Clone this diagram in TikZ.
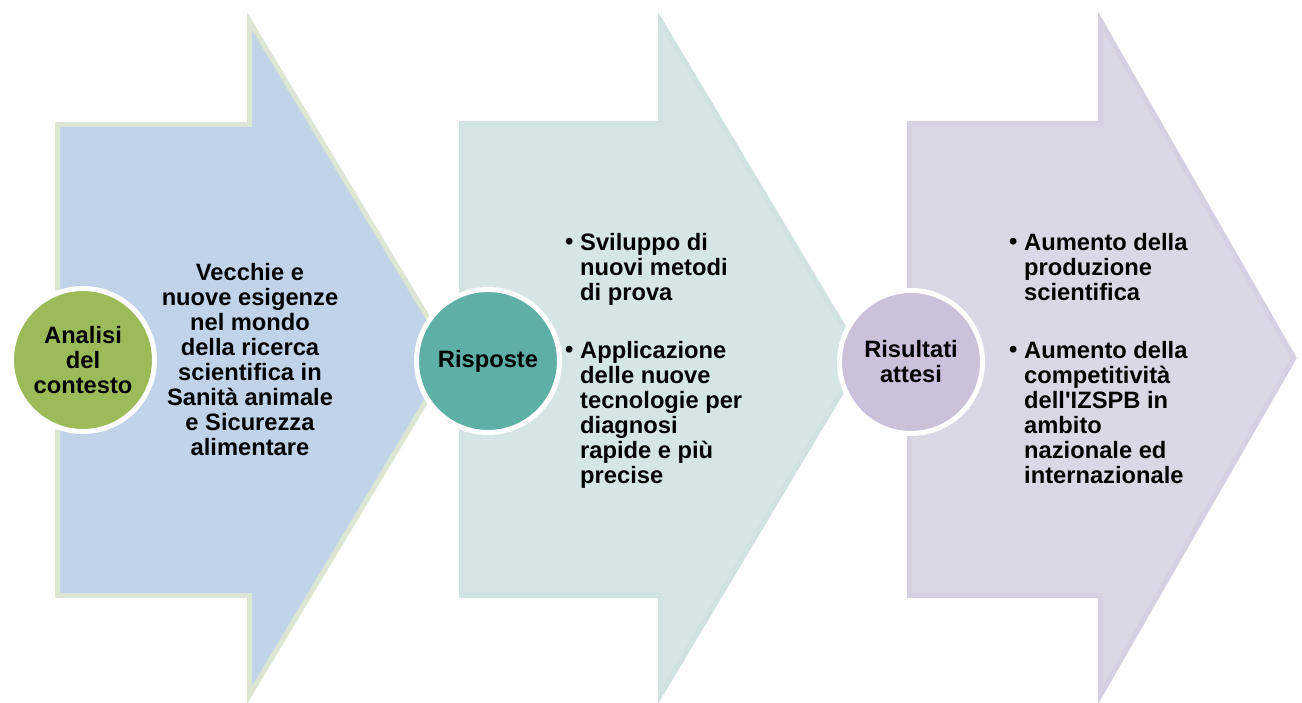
\documentclass[tikz,border=0pt]{standalone}
\usepackage{fontspec}
\setmainfont{Liberation Sans}
\definecolor{aOneFill}{HTML}{C1D3E8}
\definecolor{aOneLine}{HTML}{DCE6D3}
\definecolor{aTwoFill}{HTML}{D5E6E4}
\definecolor{aTwoLine}{HTML}{D0E3E1}
\definecolor{aThreeFill}{HTML}{DBD8E5}
\definecolor{aThreeLine}{HTML}{D5D1E2}
\definecolor{cOne}{HTML}{9BBB59}
\definecolor{cTwo}{HTML}{5EAFA6}
\definecolor{cThree}{HTML}{CBC1DB}
\tikzset{
  arrowshape/.style={line width=5pt, line join=miter},
  disc/.style={circle, draw=white, line width=5pt, minimum size=143pt, inner sep=0pt,
    align=center, font=\bfseries\fontsize{23.7}{25}\selectfont},
  bodytext/.style={inner sep=0pt, align=center, font=\bfseries\fontsize{23.7}{25}\selectfont},
  itemtext/.style={inner sep=0pt, align=left, anchor=north west, font=\bfseries\fontsize{23.7}{25}\selectfont},
  bulletmark/.style={inner sep=0pt, anchor=base west, font=\bfseries\fontsize{23.7}{25}\selectfont},
}
\begin{document}
\begin{tikzpicture}[x=1pt,y=-1pt]
\useasboundingbox (0,0) rectangle (1302,703);
% arrows
\path[arrowshape, fill=aOneFill, draw=aOneLine]
  (57.5,124.5) -- (249.5,124.5) -- (249.5,21) -- (452,358) -- (249.5,695) -- (249.5,595.5) -- (57.5,595.5) -- cycle;
\path[arrowshape, fill=aTwoFill, draw=aTwoLine]
  (461.5,123.5) -- (660.5,123.5) -- (660.5,21) -- (862,358) -- (660.5,695) -- (660.5,595.5) -- (461.5,595.5) -- cycle;
\path[arrowshape, fill=aThreeFill, draw=aThreeLine]
  (909.5,123.5) -- (1100.5,123.5) -- (1100.5,21) -- (1294,358) -- (1100.5,695) -- (1100.5,595.5) -- (909.5,595.5) -- cycle;
% arrow texts
\node[bodytext] (t1) at (250,359.5) {Vecchie e\\nuove esigenze\\nel mondo\\della ricerca\\scientifica in\\Sanità animale\\e Sicurezza\\alimentare};
\node[itemtext] (b1) at (580,232.7) {Sviluppo di\\nuovi metodi\\di prova};
\node[bulletmark] (m1) at (565,250) {•};
\node[itemtext] (b2) at (580,340.7) {Applicazione\\delle nuove\\tecnologie per\\diagnosi\\rapide e più\\precise};
\node[bulletmark] (m2) at (565,358) {•};
\node[itemtext] (b3) at (1024,232.7) {Aumento della\\produzione\\scientifica};
\node[bulletmark] (m3) at (1009,250) {•};
\node[itemtext] (b4) at (1024,340.7) {Aumento della\\competitività\\dell\textquotesingle IZSPB in\\ambito\\nazionale ed\\internazionale};
\node[bulletmark] (m4) at (1009,358) {•};
% circles
\node[disc, fill=cOne] (c1) at (83,360) {Analisi\\del\\contesto};
\node[disc, fill=cTwo] (c2) at (488,361) {Risposte};
\node[disc, fill=cThree] (c3) at (911,362) {Risultati\\attesi};
\end{tikzpicture}
\end{document}
